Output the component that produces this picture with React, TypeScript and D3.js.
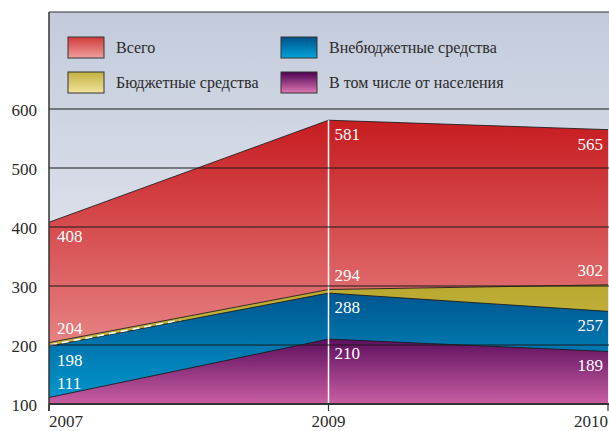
import React from "react";
import * as d3 from "d3";

const years = ["2007", "2009", "2010"];
const totalVals = [408, 581, 565];
const budgetVals = [204, 294, 302];
const extraVals = [198, 288, 257];
const popVals = [111, 210, 189];
const yTicks = [100, 200, 300, 400, 500, 600];
const legendLabels = ["Всего", "Внебюджетные средства", "Бюджетные средства", "В том числе от населения"];

// label placement (layout): -1 above the line, 1 below
const placeTotal = [1, 1, 1];
const placeBudget = [-1, -1, -1];
const placeExtra = [1, 1, 1];
const placePop = [-1, 1, 1];

const W = 609;
const H = 431;
const FONT = "Liberation Serif";

export default function App() {
  const x = d3.scalePoint<string>().domain(years).range([49, 608]);
  const y = d3.scaleLinear().domain([100, 600]).range([404, 109]);
  const top = 12;

  const area = (vals: number[]) =>
    d3
      .area<number>()
      .x((_, i) => x(years[i]) as number)
      .y0(y(100))
      .y1((d) => y(d))(vals) as string;
  const line = (vals: number[]) =>
    d3
      .line<number>()
      .x((_, i) => x(years[i]) as number)
      .y((d) => y(d))(vals) as string;

  const series = [
    { vals: totalVals, grad: "gRed", place: placeTotal },
    { vals: budgetVals, grad: "gYel", place: placeBudget },
    { vals: extraVals, grad: "gBlue", place: placeExtra },
    { vals: popVals, grad: "gPur", place: placePop },
  ];

  const labelX = (i: number) => {
    const px = x(years[i]) as number;
    if (i === 0) return { x: px + 8, anchor: "start" };
    if (i === years.length - 1) return { x: px - 5, anchor: "end" };
    return { x: px + 6, anchor: "start" };
  };

  const x0 = x(years[0]) as number;
  const x1 = x(years[1]) as number;
  const t = 0.47;
  const dashY0 = y((budgetVals[0] + extraVals[0]) / 2 - 1);
  const dashY1 = y(((budgetVals[0] + extraVals[0]) / 2) * (1 - t) + ((budgetVals[1] + extraVals[1]) / 2) * t - 1);

  const legend = [
    { label: legendLabels[0], grad: "lRed", lx: 68, ly: 37 },
    { label: legendLabels[1], grad: "lBlue", lx: 281, ly: 37 },
    { label: legendLabels[2], grad: "lYel", lx: 68, ly: 72 },
    { label: legendLabels[3], grad: "lPur", lx: 281, ly: 72 },
  ];

  const vGrad = (id: string, c0: string, c1: string, units = "objectBoundingBox", y1 = 0, y2 = 1) => (
    <linearGradient id={id} x1="0" x2="0" y1={y1} y2={y2} gradientUnits={units as any}>
      <stop offset="0" stopColor={c0} />
      <stop offset="1" stopColor={c1} />
    </linearGradient>
  );

  return (
    <svg width={W} height={H} style={{ position: "absolute", left: 0, top: 0 }}>
      <defs>
        {vGrad("gBg", "#c3cbdb", "#eef0f6", "userSpaceOnUse", top, 404)}
        {vGrad("gRed", "#c61a1e", "#ef9d9d", "userSpaceOnUse", 115, 404)}
        {vGrad("gYel", "#b9a82e", "#cfc056", "userSpaceOnUse", 280, 404)}
        {vGrad("gBlue", "#00548d", "#009ad0", "userSpaceOnUse", 290, 404)}
        {vGrad("gPur", "#560a5a", "#c95ea2", "userSpaceOnUse", 335, 404)}
        {vGrad("lRed", "#cf3a36", "#f1a0a0")}
        {vGrad("lBlue", "#00508a", "#00a4da")}
        {vGrad("lYel", "#c2b040", "#f2e49c")}
        {vGrad("lPur", "#4c0050", "#e078b4")}
      </defs>
      <rect x={49} y={top} width={W - 49} height={404 - top} fill="url(#gBg)" />
      {series.map((s) => (
        <path key={s.grad} d={area(s.vals)} fill={`url(#${s.grad})`} />
      ))}
      {series.map((s) => (
        <path key={s.grad + "l"} d={line(s.vals)} fill="none" stroke="#1a1a1a" strokeWidth={1} strokeOpacity={0.85} />
      ))}
      <line x1={x0 + 1} x2={x0 + (x1 - x0) * t} y1={dashY0} y2={dashY1} stroke="#fff" strokeWidth={1.5} strokeDasharray="7,5" />
      <line x1={x1} x2={x1} y1={y(totalVals[1])} y2={y(100)} stroke="#fff" strokeWidth={1.5} />
      {yTicks.slice(1).map((v) => (
        <line key={v} x1={49} x2={W} y1={y(v)} y2={y(v)} stroke="#1a1a1a" strokeWidth={1} />
      ))}
      <line x1={49} x2={W} y1={top} y2={top} stroke="#333" strokeWidth={1.2} />
      <line x1={49} x2={49} y1={top} y2={411} stroke="#333" strokeWidth={1.5} />
      <line x1={49} x2={W} y1={y(100)} y2={y(100)} stroke="#333" strokeWidth={2} />
      {years.map((yr) => (
        <line key={yr} x1={x(yr)} x2={x(yr)} y1={y(100)} y2={411} stroke="#333" strokeWidth={1.2} />
      ))}
      <g fontFamily={FONT}>
        {series.map((s) =>
          s.vals.map((v, i) => {
            const p = labelX(i);
            return (
              <text
                key={s.grad + i}
                x={p.x}
                y={y(v) + (s.place[i] < 0 ? -9 : 20)}
                textAnchor={p.anchor as any}
                fill="#fff"
                fontSize={17}
              >
                {v}
              </text>
            );
          })
        )}
        {yTicks.map((v) => (
          <text key={v} x={37} y={y(v) + 6.5} textAnchor="end" fill="#2a2a2a" fontSize={17}>
            {v}
          </text>
        ))}
        {years.map((yr, i) => (
          <text
            key={yr}
            x={x(yr)}
            y={426.5}
            textAnchor={i === 0 ? "start" : i === years.length - 1 ? "end" : "middle"}
            fill="#2a2a2a"
            fontSize={17}
          >
            {yr}
          </text>
        ))}
        {legend.map((l) => (
          <g key={l.label}>
            <rect x={l.lx} y={l.ly} width={36} height={21} fill={`url(#${l.grad})`} stroke="#333" strokeWidth={1} />
            <text x={l.lx + 48} y={l.ly + 16} fill="#2a2a2a" fontSize={16}>
              {l.label}
            </text>
          </g>
        ))}
      </g>
    </svg>
  );
}
